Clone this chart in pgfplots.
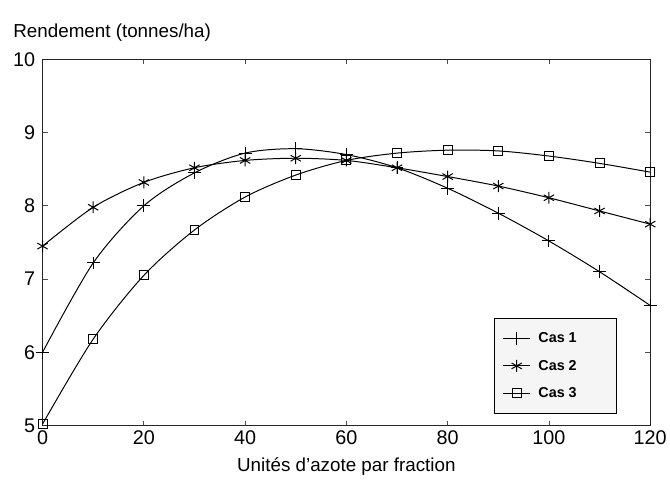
\documentclass[border=0pt]{standalone}
\usepackage{pgfplots}
\pgfplotsset{compat=1.18}
\usepackage{fontspec}
\setmainfont{Liberation Sans}

\begin{document}
\begin{tikzpicture}
\begin{axis}[
    width=614pt, height=370pt,
    scale only axis,
    xmin=0, xmax=120, ymin=5, ymax=10,
    xtick={0,20,...,120},
    ytick={5,6,...,10},
    tick align=inside,
    major tick length=5pt,
    axis line style={line width=1.1pt, black!85},
    tick style={black!70, line width=0.8pt},
    every tick label/.append style={font=\fontsize{20}{23}\selectfont},
    xticklabel style={yshift=-2pt},
    yticklabel style={xshift=-4pt},
    /pgf/number format/assume math mode=true,
    xlabel={Unités d'azote par fraction},
    xlabel style={font=\fontsize{19}{22}\selectfont, yshift=-6pt},
    legend style={at={(rel axis cs:0.945,0.295)}, anchor=north east,
        fill=gray!8, draw=black, line width=0.9pt,
        font=\fontsize{14.5}{16}\selectfont\bfseries,
        inner xsep=8pt, inner ysep=12pt, row sep=10pt,
        nodes={inner ysep=3pt}},
    legend cell align=left,
    legend image code/.code={
        \draw[#1, mark repeat=2, mark phase=2] plot coordinates {(0pt,0pt) (13.5pt,0pt) (27pt,0pt)};
    },
    clip=false,
]
\addplot[black, line width=1pt, smooth, mark=+, mark size=6.5pt,
    mark options={line width=1pt}] coordinates {
    (0,6.00) (10,7.22) (20,8.00) (30,8.45) (40,8.72) (50,8.78) (60,8.70)
    (70,8.52) (80,8.24) (90,7.90) (100,7.52) (110,7.10) (120,6.64)
};
\addlegendentry{\hspace*{6pt}Cas 1\hspace*{30pt}}
\addplot[black, line width=1pt, smooth, mark=asterisk, mark size=6pt,
    mark options={line width=1pt}] coordinates {
    (0,7.45) (10,7.98) (20,8.32) (30,8.52) (40,8.62) (50,8.65) (60,8.62)
    (70,8.52) (80,8.40) (90,8.27) (100,8.11) (110,7.93) (120,7.75)
};
\addlegendentry{\hspace*{6pt}Cas 2\hspace*{30pt}}
\addplot[black, line width=1pt, smooth, mark=square, mark size=4.5pt,
    mark options={line width=1pt}] coordinates {
    (0,5.02) (10,6.18) (20,7.05) (30,7.67) (40,8.12) (50,8.42) (60,8.62)
    (70,8.72) (80,8.76) (90,8.75) (100,8.68) (110,8.58) (120,8.46)
};
\addlegendentry{\hspace*{6pt}Cas 3\hspace*{30pt}}
\node[anchor=base west, font=\fontsize{19}{22}\selectfont]
    at (rel axis cs:0,1) [xshift=-33pt, yshift=22pt] {Rendement (tonnes/ha)};
\path (rel axis cs:0,0) ++(-43pt,-56pt) coordinate (bbsw);
\path (rel axis cs:1,1) ++(13pt,60pt) coordinate (bbne);
\end{axis}
\end{tikzpicture}
\end{document}
